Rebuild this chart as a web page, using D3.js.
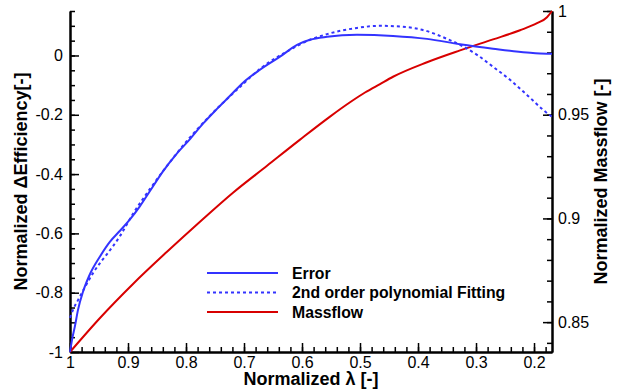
<!DOCTYPE html>
<html>
<head>
<meta charset="utf-8">
<script src="https://cdn.jsdelivr.net/npm/d3@7"></script>
<style>
  body { margin: 0; background: #fff; }
  text { font-family: "Liberation Sans", Arial, sans-serif; }
  .tick text { font-size: 16px; fill: #000; }
  .axis-title { font-size: 18px; font-weight: bold; }
  .legend-text { font-size: 15.8px; font-weight: bold; }
</style>
</head>
<body>
<svg width="617" height="389"></svg>
<script>
const svg = d3.select('svg');
const width = +svg.attr('width');
const height = +svg.attr('height');

// values
const errorX = [1.000, 0.9966, 0.9914, 0.9862, 0.9776, 0.9655, 0.9483, 0.9310, 0.9138, 0.8966, 0.8793, 0.8621, 0.8397, 0.8155, 0.7931, 0.7707, 0.7466, 0.7241, 0.7017, 0.6724, 0.6379, 0.6086, 0.5862, 0.5569, 0.5052, 0.4431, 0.3845, 0.3276, 0.2707, 0.2121, 0.1776, 0.169];
const errorY = [-1.000, -0.960, -0.912, -0.858, -0.797, -0.737, -0.678, -0.628, -0.591, -0.553, -0.508, -0.457, -0.391, -0.330, -0.282, -0.230, -0.180, -0.136, -0.092, -0.048, -0.004, 0.036, 0.053, 0.063, 0.070, 0.066, 0.056, 0.038, 0.023, 0.010, 0.006, 0.006];

const fitX = [1.000, 0.9948, 0.9862, 0.9741, 0.9603, 0.9483, 0.9362, 0.9138, 0.8914, 0.8621, 0.8276, 0.7931, 0.7586, 0.7069, 0.6724, 0.6207, 0.5862, 0.5569, 0.5052, 0.4655, 0.4259, 0.3845, 0.3500, 0.3276, 0.2983, 0.2707, 0.2414, 0.2121, 0.1845, 0.169];
const fitY = [-0.885, -0.858, -0.825, -0.781, -0.734, -0.700, -0.670, -0.609, -0.534, -0.450, -0.359, -0.276, -0.203, -0.106, -0.045, 0.019, 0.053, 0.072, 0.093, 0.100, 0.097, 0.082, 0.056, 0.036, 0.002, -0.038, -0.082, -0.133, -0.183, -0.207];

const massX = [1.000, 0.9483, 0.8914, 0.8328, 0.7759, 0.7190, 0.6603, 0.6034, 0.5517, 0.5172, 0.4914, 0.4655, 0.4431, 0.3845, 0.3276, 0.2707, 0.2241, 0.1948, 0.1776, 0.169];
const massY = [0.8356, 0.8520, 0.8684, 0.8839, 0.8984, 0.9124, 0.9254, 0.9380, 0.9491, 0.9560, 0.9607, 0.9648, 0.9683, 0.9753, 0.9810, 0.9863, 0.9907, 0.9941, 0.9970, 1.000];

const xTicks = [1, 0.9, 0.8, 0.7, 0.6, 0.5, 0.4, 0.3, 0.2];
const xMinor = d3.range(0.98, 0.16, -0.02);
const yTicks = [-1, -0.8, -0.6, -0.4, -0.2, 0];
const yMinor = d3.range(-0.95, 0.16, 0.05);
const y2Ticks = [0.85, 0.9, 0.95, 1];
const y2Minor = d3.range(0.84, 1.0, 0.01);

const legendLabels = ['Error', '2nd order polynomial Fitting', 'Massflow'];

const blue = '#3333ff';
const red = '#d80000';

const margin = {top: 11, right: 65, bottom: 37, left: 70};
const innerWidth = width - margin.left - margin.right;
const innerHeight = height - margin.top - margin.bottom;

const xScale = d3.scaleLinear().domain([1, 0.169]).range([0, innerWidth]);
const yScale = d3.scaleLinear().domain([-1, 0.15]).range([innerHeight, 0]);
const y2Scale = d3.scaleLinear().domain([0.8356, 1.0]).range([innerHeight, 0]);

const g = svg.append('g')
    .attr('transform', `translate(${margin.left}, ${margin.top})`);

const styleAxis = sel => {
    sel.select('.domain').attr('stroke', '#000').attr('stroke-width', 2);
    sel.selectAll('.tick line').attr('stroke', '#000').attr('stroke-width', 1.5);
    sel.selectAll('.tick text').attr('font-family', null).attr('font-size', null);
};

// minor ticks first
g.append('g')
    .attr('transform', `translate(0, ${innerHeight})`)
    .call(d3.axisBottom(xScale).tickValues(xMinor).tickSize(-5).tickFormat('').tickSizeOuter(0))
    .call(styleAxis);
g.append('g')
    .call(d3.axisLeft(yScale).tickValues(yMinor).tickSize(-5).tickFormat('').tickSizeOuter(0))
    .call(styleAxis);
g.append('g')
    .attr('transform', `translate(${innerWidth}, 0)`)
    .call(d3.axisRight(y2Scale).tickValues(y2Minor).tickSize(-5).tickFormat('').tickSizeOuter(0))
    .call(styleAxis);

// major ticks
g.append('g')
    .attr('transform', `translate(0, ${innerHeight})`)
    .call(d3.axisBottom(xScale).tickValues(xTicks).tickSize(-9).tickPadding(5)
        .tickFormat(d => String(+d.toFixed(1))).tickSizeOuter(0))
    .call(styleAxis);

g.append('g')
    .call(d3.axisLeft(yScale).tickValues(yTicks).tickSize(-9).tickPadding(7)
        .tickFormat(d => String(+d.toFixed(1))).tickSizeOuter(0))
    .call(styleAxis);

g.append('g')
    .attr('transform', `translate(${innerWidth}, 0)`)
    .call(d3.axisRight(y2Scale).tickValues(y2Ticks).tickSize(-9).tickPadding(6)
        .tickFormat(d => String(+d.toFixed(2))).tickSizeOuter(0))
    .call(styleAxis);

// axis titles
svg.append('text')
    .attr('class', 'axis-title')
    .attr('x', margin.left + innerWidth / 2)
    .attr('y', 385)
    .attr('text-anchor', 'middle')
    .text('Normalized λ [-]');

svg.append('text')
    .attr('class', 'axis-title')
    .attr('transform', `translate(27, ${margin.top + innerHeight / 2}) rotate(-90)`)
    .attr('text-anchor', 'middle')
    .text('Normalized ΔEfficiency[-]');

svg.append('text')
    .attr('class', 'axis-title')
    .attr('transform', `translate(607, ${margin.top + innerHeight / 2}) rotate(-90)`)
    .attr('text-anchor', 'middle')
    .text('Normalized Massflow [-]');

// curves
const lineLeft = d3.line()
    .x(d => xScale(d[0]))
    .y(d => yScale(d[1]))
    .curve(d3.curveMonotoneX);

const lineRight = d3.line()
    .x(d => xScale(d[0]))
    .y(d => y2Scale(d[1]))
    .curve(d3.curveMonotoneX);

const plot = g.append('g');

plot.append('path')
    .datum(d3.zip(massX, massY))
    .attr('fill', 'none')
    .attr('stroke', red)
    .attr('stroke-width', 2)
    .attr('d', lineRight);

plot.append('path')
    .datum(d3.zip(fitX, fitY))
    .attr('fill', 'none')
    .attr('stroke', blue)
    .attr('stroke-width', 2)
    .attr('stroke-dasharray', '3,3')
    .attr('d', lineLeft);

plot.append('path')
    .datum(d3.zip(errorX, errorY))
    .attr('fill', 'none')
    .attr('stroke', blue)
    .attr('stroke-width', 2)
    .attr('d', lineLeft);

// legend
const legend = svg.append('g').attr('transform', 'translate(207, 273)');
const legendStyles = [
    {color: blue, dash: null},
    {color: blue, dash: '3,3'},
    {color: red, dash: null}
];

legendLabels.forEach((label, i) => {
    const row = legend.append('g').attr('transform', `translate(0, ${i * 19.5})`);
    row.append('line')
        .attr('x1', 0).attr('x2', 71)
        .attr('stroke', legendStyles[i].color)
        .attr('stroke-width', 2)
        .attr('stroke-dasharray', legendStyles[i].dash);
    row.append('text')
        .attr('class', 'legend-text')
        .attr('x', 85)
        .attr('dy', '0.35em')
        .text(label);
});
</script>
</body>
</html>
